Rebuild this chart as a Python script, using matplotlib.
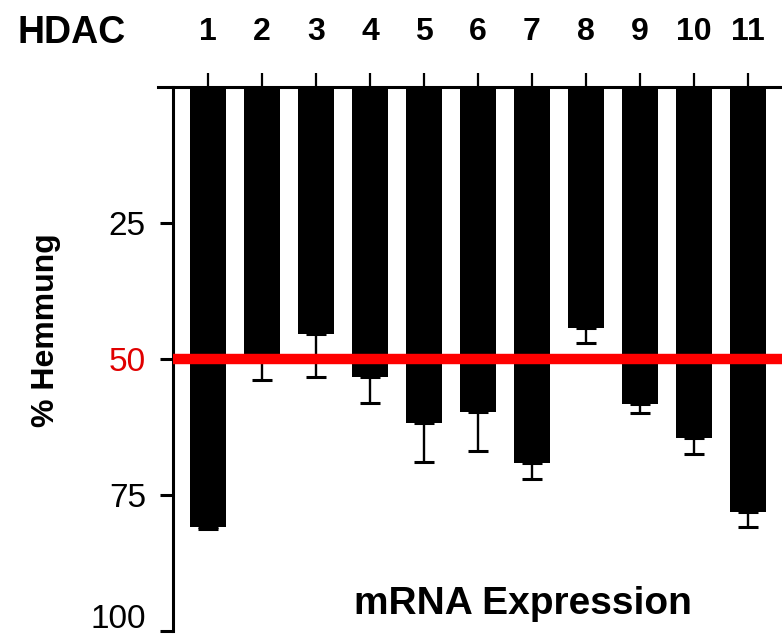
import numpy as np
import matplotlib
matplotlib.use("Agg")
import matplotlib.pyplot as plt

plt.rcParams['font.family'] = ['Liberation Sans', 'DejaVu Sans']

# HDAC isoforms and % inhibition of mRNA expression
hdac = ['1', '2', '3', '4', '5', '6', '7', '8', '9', '10', '11']
hemmung = [80.9, 49.1, 45.4, 53.3, 61.8, 59.7, 69.2, 44.3, 58.3, 64.5, 78.1]
fehler = [0.4, 4.8, 7.9, 4.8, 7.1, 7.2, 2.9, 2.8, 1.7, 3.0, 2.8]
y_ticks = [25, 50, 75, 100]

x = np.arange(1, len(hdac) + 1)

fig = plt.figure(figsize=(7.82, 6.35), dpi=100)
ax = fig.add_axes([0.2212, 0.0063, 0.7788, 0.8567])

# bars hang down from 0, errors only below
ax.bar(x, hemmung, width=0.65, color='black', zorder=3)
ax.errorbar(x, hemmung, yerr=[np.zeros(len(fehler)), fehler], fmt='none',
            ecolor='black', elinewidth=1.7, capsize=7.5, capthick=2.2, zorder=2)

# 50 % threshold
ax.axhline(50, color='#ff0000', lw=7.5, zorder=4)

ax.set_xlim(0.352, 11.63)
ax.set_ylim(100, 0)

for s in ['right', 'bottom', 'top']:
    ax.spines[s].set_visible(False)
ax.spines['left'].set_linewidth(2.2)
ax.axhline(0, xmin=-0.025, xmax=1, color='black', lw=2.2, clip_on=False, zorder=5)

ax.xaxis.tick_top()
ax.set_xticks(x)
ax.set_xticklabels(hdac, fontsize=23, fontweight='bold')
ax.tick_params(axis='x', direction='out', length=10, width=1.6, pad=19)

ax.set_yticks(y_ticks)
ax.set_yticklabels([str(t) for t in y_ticks[:-1]] + [''], fontsize=24)
ax.tick_params(axis='y', direction='out', length=9.5, width=2.2, pad=10)
ax.get_yticklabels()[1].set_color('#e00000')
# bottom label drawn separately, lifted a little so it stays on the canvas
ax.annotate(str(y_ticks[-1]), xy=(0, y_ticks[-1]), xycoords=('axes fraction', 'data'),
            xytext=(-19.5, 8), textcoords='offset points', ha='right', va='center',
            fontsize=24, annotation_clip=False)

fig.text(0.023, 1 - 33 / 635, 'HDAC', fontsize=27, fontweight='bold',
         ha='left', va='center')
fig.text(523 / 782, 1 - 604 / 635, 'mRNA Expression', fontsize=28,
         fontweight='bold', ha='center', va='center')
fig.text(46 / 782, 1 - 330 / 635, '% Hemmung', fontsize=23, fontweight='bold',
         rotation=90, ha='center', va='center')

fig.savefig('out.png', dpi=100)
